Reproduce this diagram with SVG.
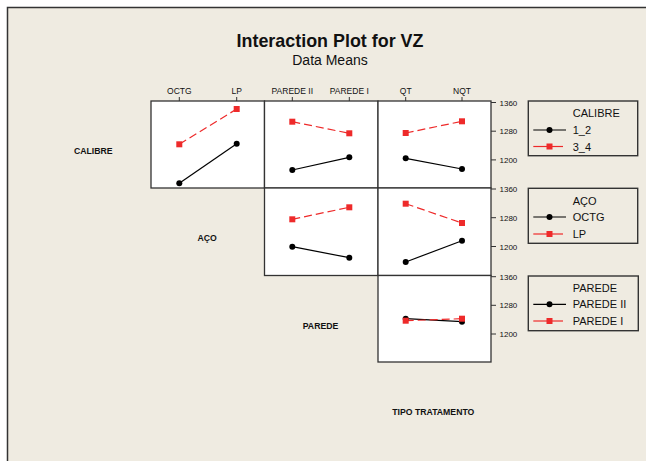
<svg xmlns="http://www.w3.org/2000/svg" width="646" height="461" viewBox="0 0 646 461">
<defs>
<style>
.t{font-family:"Liberation Sans",Arial,sans-serif;fill:#111}
.tick{font-size:8.5px;text-anchor:middle}
.ax{font-size:8px}
.lab{font-size:8.7px;font-weight:bold;text-anchor:middle}
.leg{font-size:11px}
.panel{fill:#fff;stroke:#333;stroke-width:1.3}
.lbox{fill:none;stroke:#333;stroke-width:1.4}
.blk{stroke:#000;stroke-width:1.2;fill:none}
.red{stroke:#ee2a2a;stroke-width:1.2;fill:none;stroke-dasharray:8,4}
.redl{stroke:#ee2a2a;stroke-width:1.2;fill:none}
.tk{stroke:#333;stroke-width:1}
</style>
<circle id="dot" r="3" fill="#000"/>
<rect id="sq" x="-3" y="-3" width="6" height="6" fill="#ee2a2a"/>
</defs>
<rect width="646" height="461" fill="#fff"/>
<rect x="7" y="7" width="639" height="454" fill="#efebe1"/>
<path d="M7.5,461 V7.5 H646" fill="none" stroke="#333" stroke-width="1.5"/>

<g id="title">
<text class="t" x="330" y="46.5" font-size="17.9" font-weight="bold" text-anchor="middle">Interaction Plot for VZ</text>
<text class="t" x="330" y="65" font-size="14" text-anchor="middle">Data Means</text>
</g>

<g id="panels">
<rect class="panel" x="151" y="101" width="113.5" height="87"/>
<rect class="panel" x="264.5" y="101" width="113.5" height="87"/>
<rect class="panel" x="378" y="101" width="113" height="87"/>
<rect class="panel" x="264.5" y="188" width="113.5" height="87.5"/>
<rect class="panel" x="378" y="188" width="113" height="87.5"/>
<rect class="panel" x="378" y="275.5" width="113" height="86.5"/>
</g>

<g id="top-axis">
<path class="tk" d="M179.3,97V101 M236.7,97V101 M292.3,97V101 M349.3,97V101 M405.7,97V101 M462,97V101"/>
<text class="t tick" x="179.3" y="94">OCTG</text>
<text class="t tick" x="236.7" y="94">LP</text>
<text class="t tick" x="292.3" y="94">PAREDE II</text>
<text class="t tick" x="349.3" y="94">PAREDE I</text>
<text class="t tick" x="405.7" y="94">QT</text>
<text class="t tick" x="462" y="94">NQT</text>
</g>

<g id="right-axis">
<path class="tk" d="M491,102.5H496 M491,131.2H496 M491,159.9H496 M491,189H496 M491,217.7H496 M491,246.5H496 M491,276.7H496 M491,305.3H496 M491,334H496"/>
<text class="t ax" x="499.5" y="105.5">1360</text>
<text class="t ax" x="499.5" y="134.2">1280</text>
<text class="t ax" x="499.5" y="162.9">1200</text>
<text class="t ax" x="499.5" y="192">1360</text>
<text class="t ax" x="499.5" y="220.7">1280</text>
<text class="t ax" x="499.5" y="249.5">1200</text>
<text class="t ax" x="499.5" y="279.7">1360</text>
<text class="t ax" x="499.5" y="308.3">1280</text>
<text class="t ax" x="499.5" y="337">1200</text>
</g>

<g id="row-labels">
<text class="t lab" x="93.3" y="154.3">CALIBRE</text>
<text class="t lab" x="207.2" y="241">AÇO</text>
<text class="t lab" x="320.5" y="328.5">PAREDE</text>
<text class="t lab" x="433.3" y="414.5">TIPO TRATAMENTO</text>
</g>

<g id="p-calibre-aco">
<path class="blk" d="M179.3,183.3L236.7,143.7"/>
<path class="red" d="M179.3,144.3L236.7,109"/>
<use href="#dot" x="179.3" y="183.3"/><use href="#dot" x="236.7" y="143.7"/>
<use href="#sq" x="179.3" y="144.3"/><use href="#sq" x="236.7" y="109"/>
</g>
<g id="p-calibre-parede">
<path class="blk" d="M292.3,170L349.3,157.3"/>
<path class="red" d="M292.3,121.7L349.3,133.3"/>
<use href="#dot" x="292.3" y="170"/><use href="#dot" x="349.3" y="157.3"/>
<use href="#sq" x="292.3" y="121.7"/><use href="#sq" x="349.3" y="133.3"/>
</g>
<g id="p-calibre-tipo">
<path class="blk" d="M405.7,158.3L462,169"/>
<path class="red" d="M405.7,133L462,121.3"/>
<use href="#dot" x="405.7" y="158.3"/><use href="#dot" x="462" y="169"/>
<use href="#sq" x="405.7" y="133"/><use href="#sq" x="462" y="121.3"/>
</g>
<g id="p-aco-parede">
<path class="blk" d="M292.3,246.7L349.3,257.7"/>
<path class="red" d="M292.3,219.3L349.3,207.3"/>
<use href="#dot" x="292.3" y="246.7"/><use href="#dot" x="349.3" y="257.7"/>
<use href="#sq" x="292.3" y="219.3"/><use href="#sq" x="349.3" y="207.3"/>
</g>
<g id="p-aco-tipo">
<path class="blk" d="M405.7,262L462,240.7"/>
<path class="red" d="M405.7,203.7L462,223"/>
<use href="#dot" x="405.7" y="262"/><use href="#dot" x="462" y="240.7"/>
<use href="#sq" x="405.7" y="203.7"/><use href="#sq" x="462" y="223"/>
</g>
<g id="p-parede-tipo">
<path class="blk" d="M405.7,318.7L462,321.7"/>
<path class="red" d="M405.7,320.7L462,318.7"/>
<use href="#dot" x="405.7" y="318.7"/><use href="#dot" x="462" y="321.7"/>
<use href="#sq" x="405.7" y="320.7"/><use href="#sq" x="462" y="318.7"/>
</g>

<g id="legend-calibre">
<rect class="lbox" x="528.3" y="101" width="109.4" height="54.7"/>
<text class="t leg" x="572.7" y="117.3">CALIBRE</text>
<path class="blk" d="M533.3,130H566"/><use href="#dot" x="549.5" y="130"/>
<text class="t leg" x="572.7" y="134">1_2</text>
<path class="redl" d="M533.3,146.5H563"/><use href="#sq" x="549.5" y="146.5"/>
<text class="t leg" x="572.7" y="150.5">3_4</text>
</g>
<g id="legend-aco">
<rect class="lbox" x="528.3" y="188.3" width="109.4" height="55"/>
<text class="t leg" x="572.7" y="204.5">AÇO</text>
<path class="blk" d="M533.3,217H566"/><use href="#dot" x="549.5" y="217"/>
<text class="t leg" x="572.7" y="221">OCTG</text>
<path class="redl" d="M533.3,234H563"/><use href="#sq" x="549.5" y="234"/>
<text class="t leg" x="572.7" y="238">LP</text>
</g>
<g id="legend-parede">
<rect class="lbox" x="528.3" y="276" width="110" height="54.7"/>
<text class="t leg" x="572.7" y="291.5">PAREDE</text>
<path class="blk" d="M533.3,304.3H566"/><use href="#dot" x="549.5" y="304.3"/>
<text class="t leg" x="572.7" y="308.3">PAREDE II</text>
<path class="redl" d="M533.3,321H563"/><use href="#sq" x="549.5" y="321"/>
<text class="t leg" x="572.7" y="325">PAREDE I</text>
</g>
</svg>
